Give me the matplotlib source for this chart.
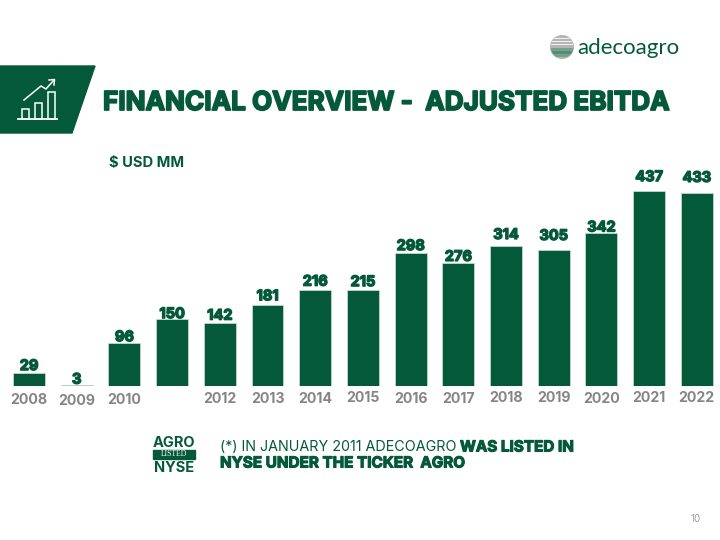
import matplotlib
matplotlib.use('Agg')
import matplotlib.pyplot as plt
import matplotlib.patheffects as pe
from matplotlib.patches import Polygon, Rectangle, Circle

years = ['2008', '2009', '2010', '', '2012', '2013', '2014', '2015', '2016',
         '2017', '2018', '2019', '2020', '2021', '2022']
ebitda = [29, 3, 96, 150, 142, 181, 216, 215, 298, 276, 314, 305, 342, 437, 433]

GREEN = '#04593a'
GREY = '#858585'
plt.rcParams['font.family'] = ['Inter', 'DejaVu Sans']

fig = plt.figure(figsize=(7.2, 5.4), dpi=100, facecolor='white')

# chart axes: x step 47.7 px from first bar centre, baseline at y=386 px
ax = fig.add_axes([0, (540 - 386) / 540, 1, 206 / 540])
ax.set_xlim(-29 / 47.7, (720 - 29) / 47.7)
ax.set_ylim(0, 206 / 0.446)
ax.axis('off')
ax.bar(range(len(ebitda)), ebitda, width=0.67, color=GREEN, edgecolor='#cfe0d8', linewidth=0.5)

# small hand placed offsets, the labels in the slide are not aligned
label_gap = [7, 5, 6, 5, 7, 9, 8, 8, 7, 6, 11, 14, 6, 14, 15]
year_gap = [14, 15, 14, 13, 13, 13, 13, 12, 13, 13, 12, 12, 13, 12, 12]
stroke = [pe.withStroke(linewidth=1.0, foreground=GREEN)]
for i, v in enumerate(ebitda):
    ax.annotate(str(v), (i, v), xytext=(0, label_gap[i] * 0.72), textcoords='offset points',
                ha='center', va='center', fontsize=10.5, fontweight='bold', color=GREEN,
                path_effects=stroke)
    ax.annotate(years[i], (i, 0), xytext=(0, -year_gap[i] * 0.72), textcoords='offset points',
                ha='center', va='center', fontsize=10.2, fontweight='bold', color=GREY,
                annotation_clip=False)

# overlay in pixel coordinates for the slide furniture
ov = fig.add_axes([0, 0, 1, 1])
ov.set_xlim(0, 720)
ov.set_ylim(540, 0)
ov.axis('off')
ov.patch.set_alpha(0)

ov.add_patch(Polygon([(0, 66), (95, 66), (72, 133), (0, 133)], color=GREEN))
for x0, x1, top in [(22, 28.5, 109), (35, 41.5, 103), (48, 54.5, 92)]:
    ov.add_patch(Rectangle((x0, top), x1 - x0, 119 - top, fill=False, ec='white', lw=1.1))
ov.plot([18, 57], [119, 119], color='white', lw=1.3)
ov.plot([24, 41, 46, 54], [100, 86, 89, 80], color='white', lw=1.1)
ov.plot([49, 54.5, 54], [80, 79.5, 85], color='white', lw=1.1)

stroke2 = [pe.withStroke(linewidth=1.3, foreground=GREEN)]
ov.text(103, 103, 'FINANCIAL OVERVIEW -  ADJUSTED EBITDA', fontsize=18.8, fontweight='bold',
        color=GREEN, va='center', path_effects=stroke2)
ov.text(109, 163, '$ USD MM', fontsize=10.6, fontweight='bold', color=GREEN, va='center')

# logo
disc = Circle((562, 47), 11.3, color='#b5b5b5')
ov.add_patch(disc)
for y, c, lw in [(38, 'white', 0.6), (41, 'white', 0.6), (44, 'white', 0.6),
                 (49, '#6f9f8b', 2.0), (52, '#4f8a72', 2.0), (55, '#6f9f8b', 2.0)]:
    line, = ov.plot([550, 574], [y, y], color=c, lw=lw)
    line.set_clip_path(disc)
ov.text(577, 48, 'adecoagro', fontsize=16, color=GREEN, va='center', family=['Lato', 'Noto Sans'])

# NYSE badge
ov.text(173.5, 443, 'AGRO', fontsize=10.5, fontweight='bold', color=GREEN, ha='center', va='center')
ov.add_patch(Rectangle((153, 450), 42, 9, color=GREEN))
ov.text(174, 454.5, 'LISTED', fontsize=5.5, color='white', ha='center', va='center',
        family=['Liberation Serif'])
ov.text(174, 467.5, 'NYSE', fontsize=10.5, fontweight='bold', color=GREEN, ha='center', va='center')

ov.text(220, 447, '(*) IN JANUARY 2011 ADECOAGRO', fontsize=10.3, color=GREEN, va='center')
bold_fx = [pe.withStroke(linewidth=0.8, foreground=GREEN)]
ov.text(460, 447, 'WAS LISTED IN', fontsize=11, fontweight='bold', color=GREEN, va='center',
        path_effects=bold_fx)
ov.text(220, 463, 'NYSE UNDER THE TICKER  AGRO', fontsize=11, fontweight='bold', color=GREEN,
        va='center', path_effects=bold_fx)

ov.text(696, 519, '10', fontsize=7, color='#9a9a9a', ha='center', va='center')

fig.savefig('out.png', dpi=100)
